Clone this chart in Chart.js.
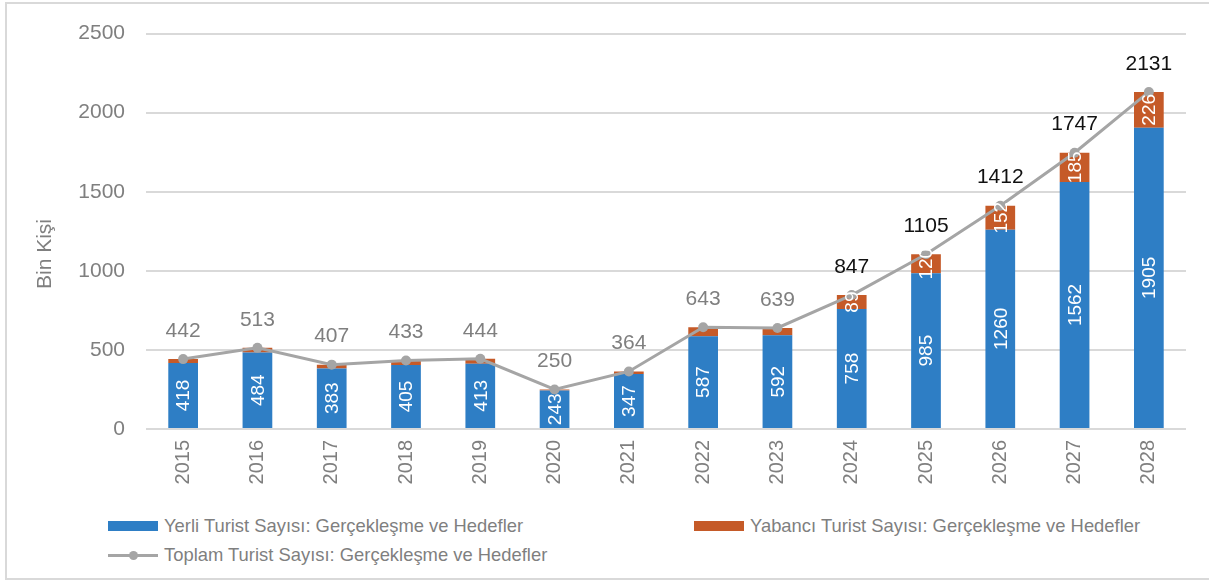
<!DOCTYPE html>
<html lang="tr">
<head>
<meta charset="utf-8">
<title>Turist Sayısı</title>
<script src="https://cdn.jsdelivr.net/npm/chart.js@4/dist/chart.umd.min.js"></script>
<style>
    html, body { margin: 0; padding: 0; background: #fff; }
    body { width: 1209px; height: 585px; position: relative; overflow: hidden; font-family: 'Liberation Sans', Arial, sans-serif; }
    .frame { position: absolute; left: 5px; top: 2px; width: 1215px; height: 578px; border: 2px solid #d9d9d9; box-sizing: border-box; }
    #chart { position: absolute; left: 0; top: 0; }
    .legend-item { position: absolute; display: flex; align-items: center; color: #7f7f7f; font-family: 'Liberation Sans', Arial, sans-serif; font-size: 18.4px; line-height: 22px; white-space: nowrap; }
    .legend-box { width: 50px; height: 10px; margin-right: 6px; }
    .legend-line { width: 50px; height: 3px; margin-right: 6px; background: #a5a5a5; position: relative; }
    .legend-line::after { content: ''; position: absolute; left: 21px; top: -3px; width: 9px; height: 9px; border-radius: 50%; background: #a5a5a5; }
</style>
</head>
<body>
<div class="frame"></div>
<canvas id="chart" width="1209" height="500"></canvas>
<div class="legend-item" style="left:108px; top:515px;"><span class="legend-box" style="background:#2e7ec5"></span>Yerli Turist Sayısı: Gerçekleşme ve Hedefler</div>
<div class="legend-item" style="left:694px; top:515px;"><span class="legend-box" style="background:#c55a28"></span>Yabancı Turist Sayısı: Gerçekleşme ve Hedefler</div>
<div class="legend-item" style="left:108px; top:544px;"><span class="legend-line"></span>Toplam Turist Sayısı: Gerçekleşme ve Hedefler</div>
<script>
const years = ['2015', '2016', '2017', '2018', '2019', '2020', '2021', '2022', '2023', '2024', '2025', '2026', '2027', '2028'];
const domestic = [418, 484, 383, 405, 413, 243, 347, 587, 592, 758, 985, 1260, 1562, 1905];
const foreign = [24, 29, 24, 28, 31, 7, 17, 56, 47, 89, 120, 152, 185, 226];
const totals = [442, 513, 407, 433, 444, 250, 364, 643, 639, 847, 1105, 1412, 1747, 2131];
const lastActualYear = '2023';

const colors = {
    blue: '#2e7ec5',
    orange: '#c55a28',
    gray: '#a5a5a5',
    text: '#7f7f7f',
};

// value labels: white inside the bars, totals above the line points
const valueLabels = {
    id: 'valueLabels',
    afterDatasetsDraw(chart) {
        const { ctx } = chart;
        ctx.save();
        ctx.textAlign = 'center';
        ctx.textBaseline = 'middle';

        ctx.fillStyle = '#fff';
        ctx.font = '19px "Liberation Sans", Arial, sans-serif';
        [0, 1].forEach(di => {
            const values = chart.data.datasets[di].data;
            chart.getDatasetMeta(di).data.forEach((bar, i) => {
                if (di === 1 && values[i] < 80) return;
                ctx.save();
                ctx.translate(bar.x, (bar.y + bar.base) / 2);
                ctx.rotate(-Math.PI / 2);
                ctx.fillText(values[i], 0, 1);
                ctx.restore();
            });
        });

        ctx.font = '21px "Liberation Sans", Arial, sans-serif';
        chart.getDatasetMeta(2).data.forEach((pt, i) => {
            ctx.fillStyle = years[i] <= lastActualYear ? colors.text : '#111';
            ctx.fillText(totals[i], pt.x, pt.y - 28);
        });

        ctx.fillStyle = colors.text;
        ctx.translate(45, 254);
        ctx.rotate(-Math.PI / 2);
        ctx.fillText('Bin Kişi', 0, 0);
        ctx.restore();
    },
};

new Chart(document.getElementById('chart'), {
    type: 'bar',
    data: {
        labels: years,
        datasets: [
            {
                label: 'Yerli Turist Sayısı: Gerçekleşme ve Hedefler',
                data: domestic,
                backgroundColor: colors.blue,
                stack: 'tourists',
                order: 1,
            },
            {
                label: 'Yabancı Turist Sayısı: Gerçekleşme ve Hedefler',
                data: foreign,
                backgroundColor: colors.orange,
                stack: 'tourists',
                order: 1,
            },
            {
                type: 'line',
                label: 'Toplam Turist Sayısı: Gerçekleşme ve Hedefler',
                data: totals,
                borderColor: colors.gray,
                backgroundColor: colors.gray,
                borderWidth: 3,
                pointRadius: 5,
                pointBorderWidth: 0,
                pointBackgroundColor: colors.gray,
                tension: 0,
                stack: 'total',
                order: 0,
            },
        ],
    },
    options: {
        responsive: false,
        animation: false,
        layout: { padding: { top: 32, right: 23, bottom: 0, left: 0 } },
        datasets: { bar: { barPercentage: 1, categoryPercentage: 0.4 } },
        plugins: {
            legend: { display: false },
            tooltip: { enabled: false },
        },
        scales: {
            x: {
                stacked: true,
                grid: { display: false, drawTicks: false },
                border: { display: false },
                ticks: {
                    color: colors.text,
                    font: { size: 20, family: '"Liberation Sans", Arial, sans-serif' },
                    minRotation: 90,
                    maxRotation: 90,
                    padding: 11,
                },
                afterFit(scale) { scale.height = 71; },
            },
            y: {
                stacked: true,
                min: 0,
                max: 2500,
                grid: { color: '#d9d9d9', lineWidth: 2, drawTicks: false },
                border: { display: false },
                ticks: {
                    stepSize: 500,
                    color: colors.text,
                    font: { size: 21, family: '"Liberation Sans", Arial, sans-serif' },
                    padding: 21,
                    callback: value => String(value),
                },
                afterFit(scale) { scale.width = 146; },
            },
        },
    },
    plugins: [valueLabels],
});
</script>
</body>
</html>
